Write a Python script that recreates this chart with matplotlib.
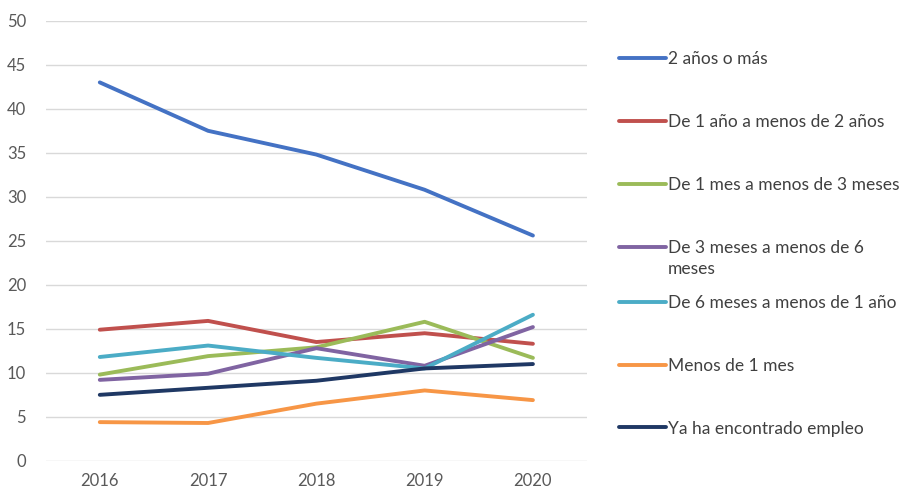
import matplotlib.pyplot as plt
import numpy as np

plt.rcParams.update({'font.size': 12, 'font.family': ['Lato', 'DejaVu Sans']})

years = ['2016', '2017', '2018', '2019', '2020']
series = [
    '2 años o más',
    'De 1 año a menos de 2 años',
    'De 1 mes a menos de 3 meses',
    'De 3 meses a menos de 6',
    'De 6 meses a menos de 1 año',
    'Menos de 1 mes',
    'Ya ha encontrado empleo',
]
dos_anos = [43.0, 37.5, 34.8, 30.8, 25.6]
uno_a_dos = [14.9, 15.9, 13.5, 14.5, 13.3]
uno_a_tres_meses = [9.8, 11.9, 12.9, 15.8, 11.7]
tres_a_seis_meses = [9.2, 9.9, 12.8, 10.8, 15.2]
seis_a_doce_meses = [11.8, 13.1, 11.7, 10.5, 16.6]
menos_un_mes = [4.4, 4.3, 6.5, 8.0, 6.9]
ya_empleo = [7.5, 8.3, 9.1, 10.5, 11.0]
values = [dos_anos, uno_a_dos, uno_a_tres_meses, tres_a_seis_meses,
          seis_a_doce_meses, menos_un_mes, ya_empleo]
colors = ['#4472C4', '#C0504D', '#9BBB59', '#8064A2', '#4BACC6', '#F79646', '#1F3864']

fig = plt.figure(figsize=(9.13, 4.95), dpi=100)
ax = fig.add_axes([0.050, 0.069, 0.593, 0.889])

x = np.arange(len(years))
lines = []
for vals, name, c in zip(values, series, colors):
    ln, = ax.plot(x, vals, color=c, lw=2.8, label=name, solid_capstyle='round')
    lines.append(ln)

ax.set_xlim(-0.5, len(years) - 0.5)
ax.set_ylim(0, 50)
ax.set_yticks(np.arange(0, 51, 5))
ax.set_xticks(x, years)
ax.grid(axis='y', color='#D9D9D9', lw=1)
ax.set_axisbelow(True)
for s in ax.spines.values():
    s.set_visible(False)
ax.tick_params(length=0, colors='#595959', labelsize=12)
ax.tick_params(axis='y', pad=14)
ax.tick_params(axis='x', pad=9)

# legend in two blocks so the wrapped entry keeps its handle on the first line
kw = dict(loc='upper left', frameon=False, handlelength=2.7, handletextpad=0.15,
          fontsize=12.5, labelcolor='#404040')
fig.legend(lines[:4], series[:4], bbox_to_anchor=(0.6605, 0.929), labelspacing=2.72, **kw)
fig.text(0.7317, 0.457, 'meses', fontsize=12.5, color='#404040', va='center', ha='left')
fig.legend(lines[4:], series[4:], bbox_to_anchor=(0.6605, 0.436), labelspacing=2.7, **kw)

fig.savefig('out.png', dpi=100)
